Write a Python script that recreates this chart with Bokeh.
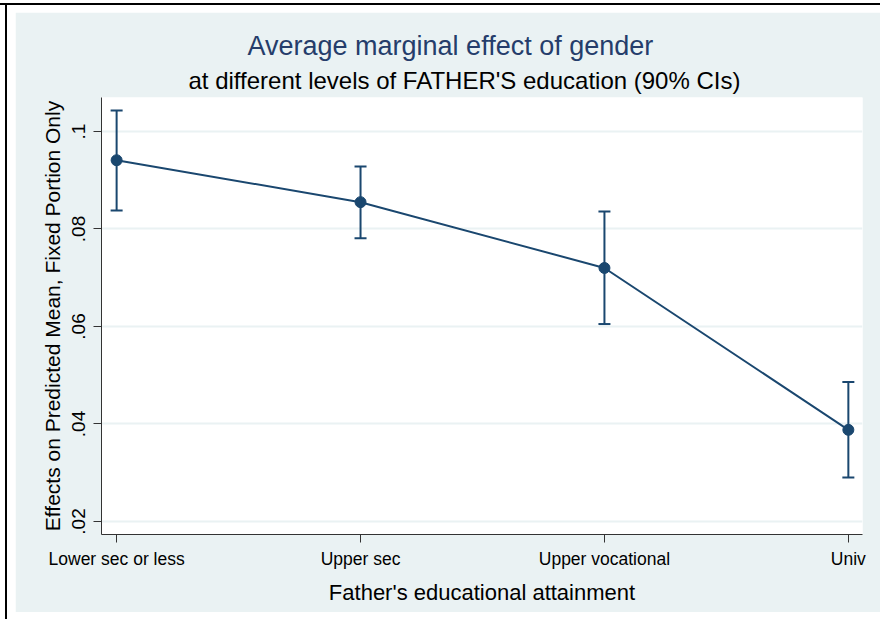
from bokeh.plotting import figure
from bokeh.models import (Range1d, FixedTicker, Title, Whisker, TeeHead,
                          ColumnDataSource, Spacer, GlobalInlineStyleSheet)
from bokeh.layouts import column, row
from bokeh.embed import file_html
from bokeh.resources import INLINE

# Average marginal effect of gender by father's education, with 90% CIs
categories = ["Lower sec or less", "Upper sec", "Upper vocational", "Univ"]
effect = [0.0941, 0.0855, 0.0720, 0.0388]
ci_lower = [0.0838, 0.0781, 0.0605, 0.0290]
ci_upper = [0.1043, 0.0928, 0.0836, 0.0486]
y_ticks = [0.02, 0.04, 0.06, 0.08, 0.1]
y_tick_labels = [".02", ".04", ".06", ".08", ".1"]

NAVY = "#1a476f"
BG = "#EAF2F3"
FONT = "Liberation Sans"

xpos = list(range(len(categories)))
src = ColumnDataSource(dict(x=xpos, y=effect, lower=ci_lower, upper=ci_upper))

p = figure(width=865, height=600,
           x_range=Range1d(-0.062, 3.058), y_range=Range1d(0.01733, 0.10697),
           output_backend="svg", toolbar_location=None,
           min_border_left=86, min_border_right=18,
           min_border_top=85, min_border_bottom=78,
           border_fill_color=BG, background_fill_color="white",
           outline_line_color=None)

# main title on top, subtitle right above the frame
p.title.text = "Average marginal effect of gender"
p.title.text_font = FONT
p.title.text_font_size = "27px"
p.title.text_font_style = "normal"
p.title.text_color = "#253d6b"
p.title.align = "left"
p.title.offset = 146
p.title.standoff = 1

sub = Title(text="at different levels of FATHER'S education (90% CIs)",
            text_font=FONT, text_font_size="24px", text_font_style="normal",
            text_color="black", align="left", offset=87, standoff=7)
p.add_layout(sub, "above")

# grid
p.xgrid.visible = False
p.ygrid.ticker = FixedTicker(ticks=y_ticks)
p.ygrid.grid_line_color = BG
p.ygrid.grid_line_width = 2

# axes
for ax in (p.xaxis[0], p.yaxis[0]):
    ax.axis_line_color = "#333333"
    ax.major_tick_line_color = "#333333"
    ax.major_tick_out = 8
    ax.major_tick_in = 0
    ax.minor_tick_line_color = None
    ax.major_label_text_font = FONT
    ax.major_label_text_color = "black"
    ax.axis_label_text_font = FONT
    ax.axis_label_text_font_style = "normal"
    ax.axis_label_text_color = "black"

p.xaxis.ticker = FixedTicker(ticks=xpos)
p.xaxis.major_label_overrides = {i: c for i, c in zip(xpos, categories)}
p.xaxis.major_label_text_font_size = "17.5px"
p.xaxis.major_label_standoff = 6
p.xaxis.axis_label = "Father's educational attainment"
p.xaxis.axis_label_text_font_size = "22px"
p.xaxis.axis_label_standoff = 8

p.yaxis.ticker = FixedTicker(ticks=y_ticks)
p.yaxis.major_label_overrides = {t: l for t, l in zip(y_ticks, y_tick_labels)}
p.yaxis.major_label_orientation = "vertical"
p.yaxis.major_label_text_font_size = "19px"
p.yaxis.major_label_standoff = 8
p.yaxis.axis_label = "Effects on Predicted Mean, Fixed Portion Only"
p.yaxis.axis_label_text_font_size = "21px"
p.yaxis.axis_label_standoff = 6

# connecting line, confidence intervals, point estimates
p.line("x", "y", source=src, line_color=NAVY, line_width=2)
w = Whisker(source=src, base="x", lower="lower", upper="upper",
            dimension="height", line_color=NAVY, line_width=2, level="glyph",
            upper_head=TeeHead(size=12, line_color=NAVY, line_width=2),
            lower_head=TeeHead(size=12, line_color=NAVY, line_width=2))
p.add_layout(w)
p.scatter("x", "y", source=src, size=11, marker="circle",
          fill_color=NAVY, line_color=NAVY)

# page frame: black rules on the top and left edges
top_rule = Spacer(width=880, height=2, styles={"background-color": "black"})
left_rule = Spacer(width=2, height=614, styles={"background-color": "black"})
layout = column(
    Spacer(width=880, height=3),
    top_rule,
    row(Spacer(width=5, height=10), left_rule, Spacer(width=8, height=10),
        column(Spacer(width=865, height=7), p)),
    stylesheets=[GlobalInlineStyleSheet(css="html, body { margin: 0; padding: 0; }")],
)

open("out.html", "w").write(file_html(layout, INLINE))
